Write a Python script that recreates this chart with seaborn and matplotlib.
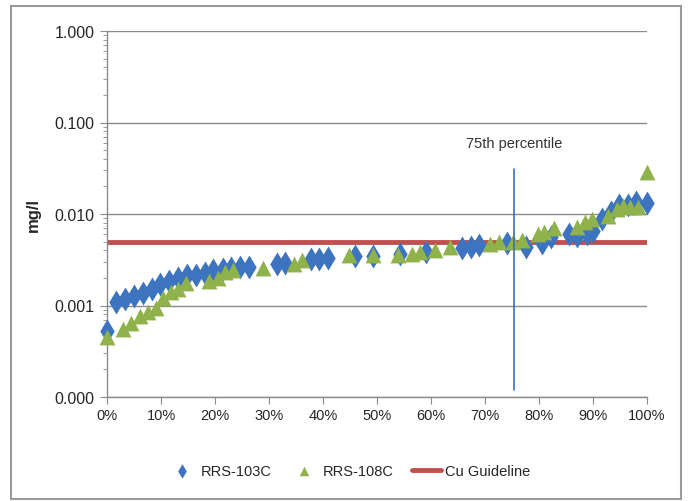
import numpy as np
import pandas as pd
import seaborn as sns
import matplotlib.pyplot as plt
from matplotlib.patches import Rectangle
from matplotlib.ticker import FixedLocator, FuncFormatter, LogLocator, NullFormatter

# percentile rank (%) and concentration (mg/l)
rrs103_pct = [0, 1.7, 3.3, 5.0, 6.6, 8.3, 9.9, 11.5, 13.2, 14.9, 16.5, 18.1, 19.7, 21.4,
              23.0, 24.6, 26.3, 31.4, 33.0, 37.7, 39.3, 41.0, 45.9, 49.3, 54.3, 59.0,
              65.7, 67.4, 68.9, 74.0, 77.5, 80.5, 82.3, 85.5, 87.0, 88.9, 90.0, 91.6,
              93.3, 94.9, 96.5, 98.0, 100]
rrs103_val = [0.00052, 0.00108, 0.00117, 0.00126, 0.00137, 0.00153, 0.0017, 0.00184,
              0.0020, 0.00214, 0.00218, 0.00229, 0.00243, 0.0025, 0.00258, 0.00264,
              0.00266, 0.00287, 0.00293, 0.0032, 0.00325, 0.0033, 0.00348, 0.0035,
              0.0037, 0.0038, 0.0042, 0.0044, 0.0046, 0.0048, 0.0044, 0.0048, 0.0056,
              0.0061, 0.0057, 0.0060, 0.0066, 0.0089, 0.0105, 0.0124, 0.0125, 0.0135,
              0.0132]

rrs108_pct = [0, 3.0, 4.5, 6.1, 7.5, 9.1, 10.4, 11.8, 13.2, 14.6, 18.9, 20.5, 21.8, 23.4,
              28.9, 34.6, 36.2, 44.9, 49.2, 53.8, 56.5, 58.0, 60.7, 63.6, 70.9, 72.5,
              75.2, 76.8, 79.9, 81.0, 82.7, 87.0, 88.5, 89.8, 92.8, 94.4, 95.6, 96.8,
              98.4, 100]
rrs108_val = [0.000455, 0.00056, 0.00064, 0.00077, 0.00085, 0.00093, 0.0012, 0.00139,
              0.0015, 0.00174, 0.00184, 0.0020, 0.00233, 0.00243, 0.00258, 0.00287,
              0.00312, 0.00354, 0.0036, 0.00354, 0.0037, 0.0038, 0.0040, 0.00436,
              0.00475, 0.0049, 0.00496, 0.00515, 0.0060, 0.0064, 0.0071, 0.0073,
              0.0081, 0.0088, 0.0096, 0.0112, 0.0122, 0.0118, 0.0118, 0.0288]

guide_pct = [0, 100]
guide_val = [0.005, 0.005]
p75 = 75.4
y_ticks = [1e-4, 1e-3, 1e-2, 1e-1, 1]
x_ticks = list(range(0, 101, 10))

blue = "#3d74c0"
green = "#8fb24a"
red = "#c0504d"
grey = "#8a8a8a"

sns.set_style("white")
plt.rcParams["font.family"] = ["Liberation Sans", "DejaVu Sans"]

fig = plt.figure(figsize=(6.88, 5.02), dpi=100)
ax = fig.add_axes([107 / 688, 1 - 398 / 502, 540 / 688, 366 / 502])

fig.patches.append(Rectangle((11 / 688, 0.004), 670 / 688, 1 - 7 / 502 - 0.004,
                             transform=fig.transFigure, fill=False,
                             edgecolor="#9a9a9a", linewidth=1.5))

d1 = pd.DataFrame({"pct": rrs103_pct, "val": rrs103_val})
d2 = pd.DataFrame({"pct": rrs108_pct, "val": rrs108_val})
dg = pd.DataFrame({"pct": guide_pct, "val": guide_val})

sns.lineplot(data=dg, x="pct", y="val", color=red, linewidth=3.5, ax=ax,
             label="Cu Guideline", zorder=2)
sns.scatterplot(data=d1, x="pct", y="val", marker="d", s=150, color=blue,
                edgecolor=blue, linewidth=0, ax=ax, label="RRS-103C", zorder=3,
                clip_on=False)
sns.scatterplot(data=d2, x="pct", y="val", marker="^", s=130, color=green,
                edgecolor=green, linewidth=0, ax=ax, label="RRS-108C", zorder=4,
                clip_on=False)

ax.plot([p75, p75], [0.031, 0.000118], color="#3b6fba", linewidth=1.2, zorder=5)
ax.text(p75, 0.06, "75th percentile", ha="center", va="center", fontsize=10.5,
        color="#333333")

ax.set_yscale("log")
ax.set_ylim(1e-4, 1)
ax.set_xlim(0, 100)
ax.yaxis.set_major_locator(FixedLocator(y_ticks))
ax.yaxis.set_major_formatter(FuncFormatter(lambda v, p: f"{v:.3f}"))
ax.yaxis.set_minor_locator(LogLocator(base=10, subs=np.arange(2, 10)))
ax.yaxis.set_minor_formatter(NullFormatter())
ax.set_xticks(x_ticks)
ax.set_xticklabels([f"{t}%" for t in x_ticks])

ax.grid(axis="y", which="major", color=grey, linewidth=1)
ax.grid(axis="x", visible=False)
for s in ["top", "right"]:
    ax.spines[s].set_visible(False)
for s in ["left", "bottom"]:
    ax.spines[s].set_color(grey)
    ax.spines[s].set_linewidth(1)
ax.tick_params(axis="y", which="major", direction="out", length=5, color=grey,
               labelsize=11.5, pad=4, left=True)
ax.tick_params(axis="y", which="minor", direction="out", length=3, color=grey, left=True)
ax.tick_params(axis="x", which="major", direction="out", length=5, color=grey,
               labelsize=10.5, pad=3, bottom=True)

ax.set_xlabel("")
ax.set_ylabel("mg/l", fontsize=12, fontweight="bold", labelpad=10)

handles, labels = ax.get_legend_handles_labels()
order = [labels.index(n) for n in ["RRS-103C", "RRS-108C", "Cu Guideline"]]
ax.legend_.remove()
fig.legend([handles[i] for i in order], [labels[i] for i in order], loc="center",
           bbox_to_anchor=(349 / 688, 1 - 472 / 502), ncol=3, frameon=False,
           fontsize=10.5, handlelength=2.0, columnspacing=1.2, handletextpad=0.3,
           markerscale=0.6)

fig.savefig("out.png", dpi=100)
